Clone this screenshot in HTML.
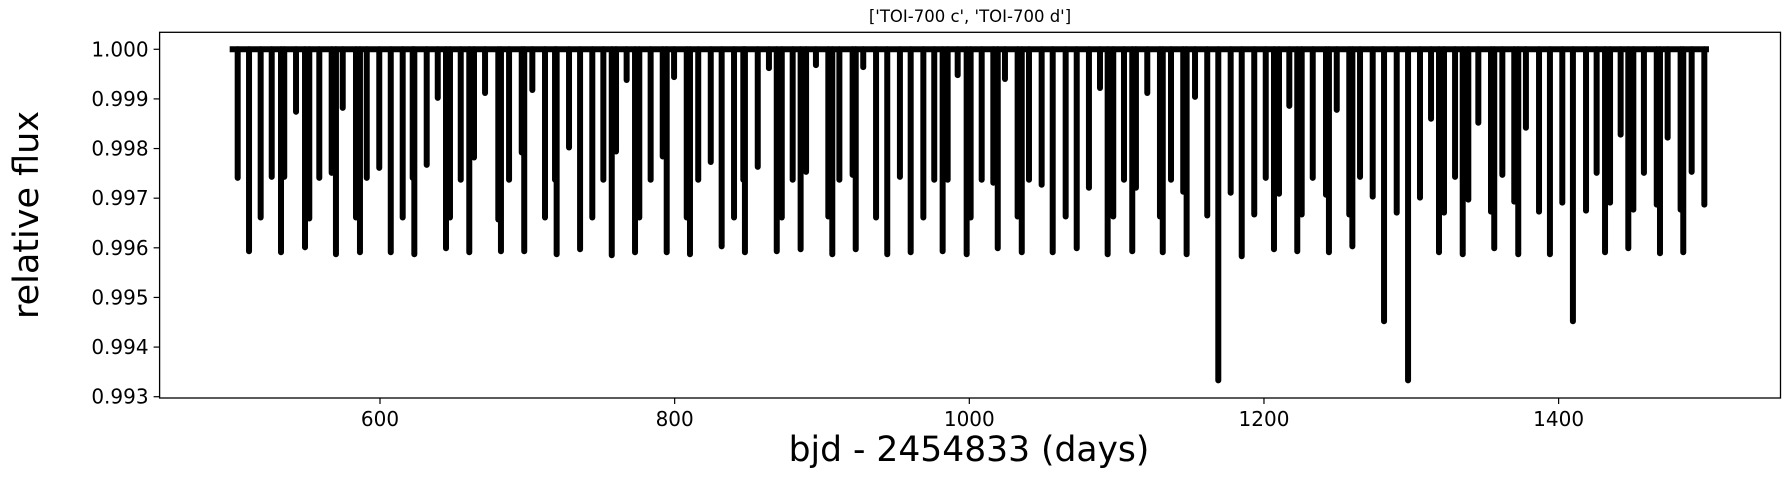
<!DOCTYPE html>
<html><head><meta charset="utf-8"><style>
html,body{margin:0;padding:0;background:#fff;}
svg{display:block;font-family:"DejaVu Sans","Liberation Sans",sans-serif;}
</style></head><body>
<svg id="chart" width="1790" height="477" viewBox="0 0 1790 477">
<text x="970" y="22" font-size="16.5" text-anchor="middle">['TOI-700 c', 'TOI-700 d']</text>
<g id="marks"></g>
<rect x="159.6" y="32.3" width="1620.9" height="365.7" fill="none" stroke="#000" stroke-width="1.3"/>
<g id="xticks"></g>
<g id="yticks"></g>
<text x="969" y="461" font-size="34.5" text-anchor="middle">bjd - 2454833 (days)</text>
<text transform="translate(38,215) rotate(-90)" font-size="35" text-anchor="middle">relative flux</text>
</svg>
<script>
const transitTimes = [503.4,511.1,519.0,526.5,532.8,535.0,543.0,549.1,552.0,558.8,567.2,570.1,574.7,583.7,586.4,591.0,599.5,607.3,615.4,623.3,622.2,631.7,639.2,644.8,647.5,654.8,660.6,663.8,671.3,680.3,682.1,687.6,696.2,697.9,703.4,712.0,719.9,718.8,728.3,735.8,744.1,751.6,757.3,760.2,767.4,773.1,776.0,783.7,791.9,794.6,799.6,808.2,810.4,816.0,824.5,831.9,840.3,847.7,846.6,856.4,864.0,869.3,872.7,880.1,885.5,889.2,895.9,904.3,907.0,911.8,920.8,922.9,928.0,936.7,944.3,952.9,960.2,968.8,976.2,981.9,985.3,992.1,998.2,1000.9,1008.4,1016.3,1019.3,1024.2,1032.8,1035.6,1040.5,1049.1,1056.6,1065.4,1072.9,1081.2,1088.7,1093.9,1097.7,1105.0,1110.6,1113.1,1120.8,1129.4,1131.3,1136.9,1145.2,1147.5,1153.2,1161.5,1169.0,1177.4,1184.9,1193.4,1201.2,1206.8,1210.2,1217.2,1222.6,1225.6,1233.1,1242.1,1244.1,1249.4,1257.9,1260.0,1265.2,1273.8,1281.5,1290.1,1297.8,1305.9,1313.4,1318.8,1322.2,1329.7,1334.9,1338.7,1345.5,1354.1,1356.3,1361.8,1369.9,1372.6,1377.8,1386.7,1394.1,1402.5,1409.7,1418.6,1425.8,1431.5,1434.9,1442.1,1447.3,1450.7,1457.9,1466.6,1468.8,1474.0,1482.8,1484.6,1490.3,1498.9];
const transitFlux = [0.99741,0.99593,0.99661,0.99743,0.99591,0.99743,0.99874,0.99601,0.99659,0.99741,0.99751,0.99587,0.99882,0.99661,0.99591,0.99741,0.99761,0.99591,0.99661,0.99587,0.99741,0.99767,0.99902,0.99599,0.99661,0.99737,0.99591,0.99782,0.99912,0.99657,0.99593,0.99737,0.99792,0.99593,0.99918,0.99661,0.99587,0.99737,0.99802,0.99597,0.99661,0.99737,0.99585,0.99794,0.99938,0.99591,0.99661,0.99737,0.99784,0.99591,0.99944,0.99661,0.99587,0.99737,0.99773,0.99603,0.99661,0.99591,0.99737,0.99763,0.99962,0.99593,0.99661,0.99737,0.99597,0.99753,0.99968,0.99663,0.99587,0.99737,0.99747,0.99597,0.99964,0.99661,0.99587,0.99743,0.99591,0.99661,0.99737,0.99593,0.99737,0.99948,0.99587,0.99661,0.99737,0.99731,0.99599,0.9994,0.99663,0.99591,0.99737,0.99727,0.99591,0.99663,0.99599,0.99721,0.99922,0.99587,0.99663,0.99737,0.99593,0.99721,0.99912,0.99663,0.99591,0.99737,0.99713,0.99587,0.99904,0.99665,0.99333,0.99711,0.99583,0.99667,0.99741,0.99597,0.99709,0.99886,0.99593,0.99667,0.99741,0.99707,0.99591,0.99878,0.99667,0.99603,0.99743,0.99703,0.99452,0.99671,0.99333,0.99701,0.9986,0.99591,0.99671,0.99743,0.99587,0.99697,0.99852,0.99673,0.99599,0.99747,0.99693,0.99587,0.99842,0.99673,0.99587,0.99691,0.99452,0.99675,0.99751,0.99591,0.99691,0.99828,0.99599,0.99677,0.99751,0.99687,0.99589,0.99822,0.99677,0.99591,0.99753,0.99687];
const baselineRange = [500, 1500];
const xTickValues = [600, 800, 1000, 1200, 1400];
const yTickValues = [1.000, 0.999, 0.998, 0.997, 0.996, 0.995, 0.994, 0.993];
const yTickLabels = ["1.000","0.999","0.998","0.997","0.996","0.995","0.994","0.993"];

const NS = "http://www.w3.org/2000/svg";
const X0 = 159.6, X1 = 1780.5, Y0 = 32.3, Y1 = 398;
const xMin = 450.4, xMax = 1550.6, yMin = 0.992974, yMax = 1.000342;
function xs(v){ return X0 + (v - xMin) / (xMax - xMin) * (X1 - X0); }
function ys(v){ return Y1 - (v - yMin) / (yMax - yMin) * (Y1 - Y0); }
function mk(tag, attrs, parent){ const e = document.createElementNS(NS, tag); for (const k in attrs) e.setAttribute(k, attrs[k]); parent.appendChild(e); return e; }

const marks = document.getElementById('marks');
const base = mk('line', {x1: xs(baselineRange[0]), x2: xs(baselineRange[1]), y1: ys(1), y2: ys(1), stroke: '#000', 'stroke-width': 6, 'stroke-linecap': 'square'}, marks);


for (let i = 0; i < transitTimes.length; i++) {
  const l = mk('line', {x1: xs(transitTimes[i]), x2: xs(transitTimes[i]), y1: ys(1), y2: ys(transitFlux[i]), stroke: '#000', 'stroke-width': 6, 'stroke-linecap': 'round'}, marks);
  
  
}

const xt = document.getElementById('xticks');
xTickValues.forEach(v => {
  const t = mk('line', {x1: xs(v), x2: xs(v), y1: Y1, y2: Y1 + 6, stroke: '#000', 'stroke-width': 1.2}, xt);
  
  
  const tx = mk('text', {x: xs(v), y: Y1 + 28, 'font-size': 20, 'text-anchor': 'middle'}, xt);
  tx.textContent = String(v);
  
  
});
const yt = document.getElementById('yticks');
yTickValues.forEach((v, i) => {
  const t = mk('line', {x1: X0 - 6, x2: X0, y1: ys(v), y2: ys(v), stroke: '#000', 'stroke-width': 1.2}, yt);
  
  
  const tx = mk('text', {x: X0 - 11, y: ys(v) + 7, 'font-size': 20, 'text-anchor': 'end'}, yt);
  tx.textContent = yTickLabels[i];
  
  
});
</script>
</body></html>
